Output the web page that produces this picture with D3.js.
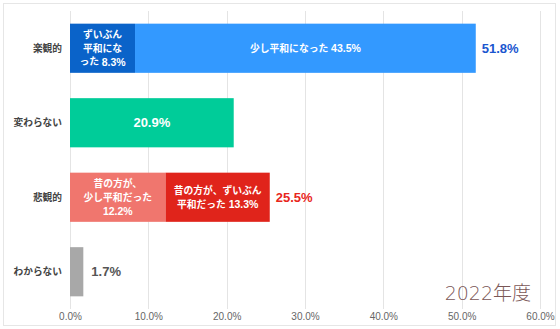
<!DOCTYPE html>
<html>
<head>
<meta charset="utf-8">
<script src="https://cdn.jsdelivr.net/npm/d3@7"></script>
<style>
  html, body { margin: 0; padding: 0; background: #fff; }
  svg { display: block; font-family: "Liberation Sans", Arial, "Noto Sans CJK JP", sans-serif; }
</style>
</head>
<body>
<svg id="chart" width="560" height="329"></svg>
<script>
// Survey answers, 2022
const categories = ["楽観的", "変わらない", "悲観的", "わからない"];
const firstValues = [8.3, 20.9, 12.2, 1.7];
const secondValues = [43.5, 0, 13.3, 0];
const totalValues = [51.8, 20.9, 25.5, 1.7];
// text lines shown before the value inside each segment
const firstPrefixes = [["ずいぶん", "平和にな", "った "], [""], ["昔の方が、", "少し平和だった", ""], null];
const secondPrefixes = [["少し平和になった "], null, ["昔の方が、ずいぶん", "平和だった "], null];
const showTotal = [true, false, true, true];
const tickValues = [0, 10, 20, 30, 40, 50, 60];
const yearLabel = "2022年度";

const firstColors = ["#0a63c9", "#00cc99", "#f0766e", "#a8a8a8"];
const secondColors = ["#3399ff", null, "#e0241b", null];
const totalColors = ["#1a56cf", null, "#e8261c", "#555555"];

const fmt = v => v.toFixed(1) + "%";

const svg = d3.select("#chart");

// outer frame
svg.append("rect")
  .attr("x", 3.5).attr("y", 3.5).attr("width", 552).attr("height", 322)
  .attr("fill", "#fff").attr("stroke", "#e6e6e6").attr("stroke-width", 1);

const x = d3.scaleLinear().domain([0, 60]).range([70, 540]);
const y = d3.scaleBand().domain(categories).range([11, 309])
  .paddingInner(0.34).paddingOuter(0.17);

// vertical gridlines
svg.append("g").selectAll("line").data(tickValues).join("line")
  .attr("x1", d => Math.round(x(d)) + 0.5).attr("x2", d => Math.round(x(d)) + 0.5)
  .attr("y1", 11).attr("y2", 309)
  .attr("stroke", "#e4e4e4").attr("stroke-width", 1);

// bottom axis labels
const xAxis = d3.axisBottom(x).tickValues(tickValues)
  .tickFormat(d => d.toFixed(1) + "%").tickSize(0).tickPadding(0);
const gx = svg.append("g").attr("transform", "translate(0,313)").call(xAxis);
gx.select(".domain").remove();
gx.selectAll("text").attr("font-size", 10).attr("fill", "#666")
  .attr("font-family", "\"Liberation Sans\", Arial, sans-serif");

// category labels
svg.append("g").selectAll("text").data(categories).join("text")
  .attr("x", 62).attr("y", d => y(d) + y.bandwidth() / 2)
  .attr("text-anchor", "end").attr("dominant-baseline", "central")
  .attr("font-size", 9.7).attr("font-weight", "bold").attr("fill", "#444")
  .text(d => d);

const bh = y.bandwidth();

// first segments
svg.append("g").selectAll("rect").data(categories).join("rect")
  .attr("x", x(0)).attr("y", d => y(d))
  .attr("width", (d, i) => x(firstValues[i]) - x(0))
  .attr("height", bh)
  .attr("fill", (d, i) => firstColors[i]);

// second segments
svg.append("g").selectAll("rect").data(categories.filter((d, i) => secondValues[i] > 0)).join("rect")
  .attr("x", d => x(firstValues[categories.indexOf(d)]))
  .attr("y", d => y(d))
  .attr("width", d => { const i = categories.indexOf(d); return x(firstValues[i] + secondValues[i]) - x(firstValues[i]); })
  .attr("height", bh)
  .attr("fill", d => secondColors[categories.indexOf(d)]);

// multi-line labels inside a segment, value appended to the last line
function segmentLabel(cx, cy, prefixes, value, size, numSize, lineH) {
  const t = svg.append("text")
    .attr("text-anchor", "middle").attr("font-weight", "bold")
    .attr("font-size", size).attr("fill", "#fff");
  const y0 = cy - (prefixes.length - 1) * lineH / 2;
  prefixes.forEach((p, k) => {
    const line = t.append("tspan").attr("x", cx).attr("y", y0 + k * lineH)
      .attr("dominant-baseline", "central");
    if (p) line.append("tspan").text(p);
    if (k === prefixes.length - 1) {
      line.append("tspan").attr("font-size", numSize).text(fmt(value));
    }
  });
}

categories.forEach((c, i) => {
  const cy = y(c) + bh / 2;
  if (firstPrefixes[i]) {
    const big = firstPrefixes[i].length === 1;
    segmentLabel((x(0) + x(firstValues[i])) / 2, cy, firstPrefixes[i], firstValues[i],
      big ? 13 : 9.8, big ? 13 : 10.5, 13.5);
  }
  if (secondPrefixes[i]) {
    segmentLabel((x(firstValues[i]) + x(firstValues[i] + secondValues[i])) / 2, cy,
      secondPrefixes[i], secondValues[i], 9.8, 10.5, 13.5);
  }
  if (showTotal[i]) {
    svg.append("text")
      .attr("x", x(totalValues[i]) + (i === 3 ? 8 : 6)).attr("y", cy)
      .attr("dominant-baseline", "central")
      .attr("font-size", 13).attr("font-weight", "bold")
      .attr("fill", totalColors[i])
      .text(fmt(totalValues[i]));
  }
});

// year caption
svg.append("text")
  .attr("x", 531).attr("y", 293)
  .attr("text-anchor", "end").attr("dominant-baseline", "central")
  .attr("font-size", 19).attr("fill", "#7a5656")
  .attr("font-family", "\"DejaVu Sans\", \"Noto Sans CJK JP\", sans-serif")
  .attr("font-weight", 300)
  .text(yearLabel);
</script>
</body>
</html>
